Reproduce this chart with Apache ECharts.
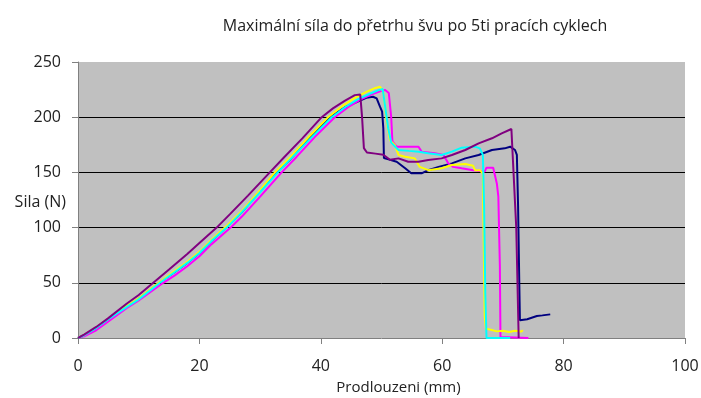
<!DOCTYPE html>
<html>
<head>
<meta charset="utf-8">
<script src="https://cdn.jsdelivr.net/npm/echarts@6/dist/echarts.min.js"></script>
<style>
html,body{margin:0;padding:0;background:#fff;}
#c{width:701px;height:398px;}
</style>
</head>
<body>
<div id="c"></div>
<script>
const titleText = "Maximální síla do přetrhu švu po 5ti pracích cyklech";
const xName = "Prodlouzeni (mm)";
const yName = "Sila (N)";
const seriesNames = ["1", "2", "3", "4", "5"];
const seriesColors = ["#000080", "#FF00FF", "#FFFF00", "#00FFFF", "#800080"];

const navy = [[0,0],[1,2.5],[3,9],[5,17],[8,28.5],[10,35.5],[13.4,50],[16,60],[18,68],[20,77],[22,88],[24.4,100],[27,114],[30,133],[32.7,150],[35,162],[38,180],[41.5,200],[44,209],[46,214],[47.5,217.5],[48.6,218.5],[49.2,217],[49.75,209.5],[50.1,205],[50.3,190],[50.4,163],[51,162],[52.5,159.7],[53.9,153.7],[54.9,149.2],[56.6,149.2],[57.7,152],[59.4,155],[61.6,158.2],[63.8,162.7],[66,165.8],[68.2,170.3],[70.3,171.8],[71.2,173.3],[72,170.3],[72.3,165.8],[72.5,120],[72.7,50],[72.8,16],[74,17],[75.6,19.9],[76.5,20.5],[77.8,21.4]];

const magenta = [[0,0],[1,1.5],[3,7],[5,15],[8,27],[10,34],[14.05,50],[16,57],[18,65],[20,74],[22,85],[25.15,100],[27,110],[30,128],[33.55,150],[36,164],[39,182],[42.3,200],[44.5,209],[46.5,216],[48.5,221],[50,224],[50.6,224.6],[51.2,222],[51.6,200],[51.8,178],[52.5,173.3],[54.4,173.3],[56.1,173.3],[56.6,168.8],[58.8,167.3],[60.2,165.8],[61,158.2],[61.8,155],[63.2,153.7],[65.1,152],[67,150.7],[67.3,154.3],[68.4,154.3],[68.7,153],[69,140],[69.25,128],[69.5,65],[69.6,1],[69.7,0],[74.2,0]];

const yellow = [[0,0],[1,2.8],[3,9.5],[5,17.5],[8,29],[10,36],[13.3,50],[16,61],[18,69],[20,78],[22,89],[24.2,100],[27,115],[30,134],[32.45,150],[35,164],[38,182],[41.2,200],[43.5,210],[45.5,217],[47.5,223],[49,226.5],[49.75,227.6],[50.3,223],[50.85,196],[51.4,179],[52.2,174.8],[52.8,165.8],[53.9,164.2],[55.5,162.7],[56.3,155],[57.7,152],[59.9,153.7],[61.6,156.7],[63.8,157.6],[65.1,156],[65.4,152],[66.2,152],[66.7,149],[66.8,100],[67,20],[67.2,8.5],[68,7.5],[69,6],[70,6.5],[71,5.5],[72,6.5],[73,5.8],[73.3,7]];

const cyan = [[0,0],[1,2.5],[3,9],[5,17],[8,28],[10,35],[13.5,50],[16,60],[18,68],[20,77],[22,88],[24.5,100],[27,114],[30,132],[32.9,150],[35,162],[38,179],[41.8,200],[44,209],[46,216],[48,221],[49.5,224.5],[50.2,225.5],[50.5,224],[51.1,190],[51.6,177],[52.8,170.3],[54.5,169.5],[56.1,168.8],[57.7,167.3],[59.9,165.8],[61.6,168.8],[63.2,172.4],[65.4,173.3],[66.2,171.8],[66.7,165.8],[66.9,120],[67.1,40],[67.3,0],[71.2,0]];

const purple = [[0,0],[1,3],[3,10],[5,18],[8,31],[10,39],[12.4,50],[15,62],[18,76],[20,86],[22.85,100],[25,112],[28,129],[31.6,150],[34,164],[37,181],[40.15,200],[42,208],[44,215],[45.6,220],[46.5,220.5],[46.8,200],[47.1,172],[47.6,168],[49,167],[50.3,166],[51.4,161.5],[52.8,162.7],[54.4,159.7],[56.1,159.7],[57.7,161.2],[59.9,162.7],[61.6,165.8],[63.8,170.3],[66,176.3],[68.2,180.9],[69.8,185.4],[71.4,189.3],[71.7,188],[72.2,100],[72.6,0]];

const allData = [navy, magenta, yellow, cyan, purple];

const font = "'Open Sans', 'Noto Sans', sans-serif";
const chart = echarts.init(document.getElementById('c'), null, {renderer: 'canvas'});
chart.setOption({
  animation: false,
  backgroundColor: '#ffffff',
  title: {
    text: titleText,
    left: 410, top: 13, textAlign: 'center',
    textStyle: {fontFamily: font, fontSize: 16, fontWeight: 'normal', color: '#222'}
  },
  graphic: [{
    type: 'text', right: 701 - 66, top: 194,
    style: {text: yName, font: "16px 'Open Sans', 'Noto Sans', sans-serif", fill: '#222'}
  }],
  grid: {
    left: 78, right: 16, top: 62, bottom: 60,
    containLabel: false, outerBoundsMode: 'none',
    show: true, backgroundColor: '#C0C0C0', borderWidth: 0
  },
  xAxis: {
    type: 'value', min: 0, max: 100, interval: 20,
    name: xName, nameLocation: 'middle', nameGap: 42,
    nameTextStyle: {fontFamily: font, fontSize: 15, color: '#222', padding: [0, 0, 0, 34]},
    axisLine: {show: true, lineStyle: {color: '#808080', width: 1}},
    axisTick: {show: true, length: 6, lineStyle: {color: '#808080'}},
    axisLabel: {fontFamily: font, fontSize: 16, color: '#222', margin: 20},
    splitLine: {show: false}
  },
  yAxis: {
    type: 'value', min: 0, max: 250, interval: 50,
    axisLine: {show: true, lineStyle: {color: '#808080', width: 1}},
    axisTick: {show: true, length: 6, lineStyle: {color: '#808080'}},
    axisLabel: {fontFamily: font, fontSize: 16, color: '#222', margin: 17},
    splitLine: {show: true, lineStyle: {color: ['rgba(0,0,0,0)', '#000', '#000', '#000', '#000', 'rgba(0,0,0,0)'], width: 1}}
  },
  series: allData.map((d, i) => ({
    name: seriesNames[i],
    type: 'line',
    data: d,
    showSymbol: false,
    symbol: 'none',
    lineStyle: {color: seriesColors[i], width: 2},
    itemStyle: {color: seriesColors[i]},
    z: 2 + i
  }))
});
</script>
</body>
</html>
